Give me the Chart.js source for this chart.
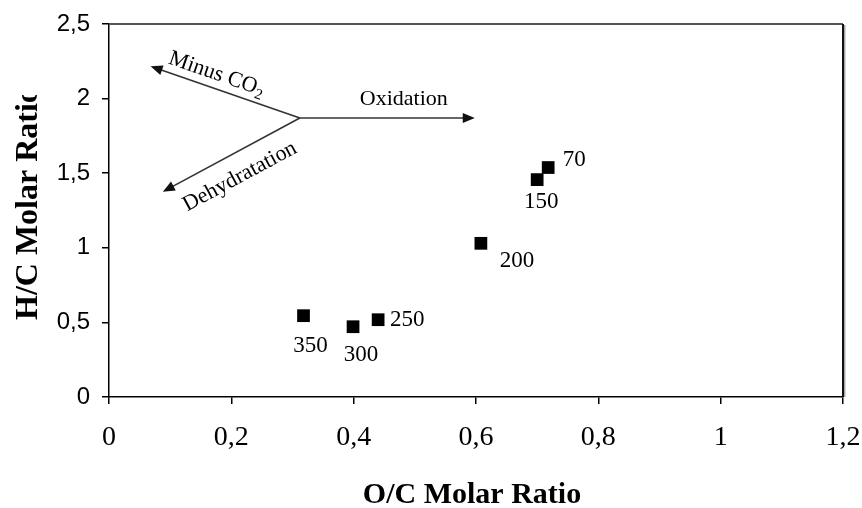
<!DOCTYPE html>
<html>
<head>
<meta charset="utf-8">
<script src="https://cdn.jsdelivr.net/npm/chart.js@4/dist/chart.umd.min.js"></script>
<style>
  html, body { margin: 0; padding: 0; background: #fff; }
  #wrap { width: 862px; height: 508px; }
</style>
</head>
<body>
<div id="wrap"><canvas id="vkChart"></canvas></div>
<script>
// pyrolysis temperature of each sample, with its O/C and H/C ratio
const temps = ["70", "150", "200", "250", "300", "350"];
const ocRatio = [0.718, 0.700, 0.608, 0.440, 0.399, 0.318];
const hcRatio = [1.538, 1.457, 1.030, 0.518, 0.471, 0.545];

const xTicks = [0, 0.2, 0.4, 0.6, 0.8, 1, 1.2];
const yTicks = [0, 0.5, 1, 1.5, 2, 2.5];

// van Krevelen reaction arrows (data units)
const arrowOrigin = [0.312, 1.87];
const arrowTips = [[0.068, 2.217], [0.088, 1.376], [0.598, 1.87]];
const arrowNames = ["Minus CO", "Dehydratation", "Oxidation"];
const arrowTextAt = [[0.176, 2.164], [0.214, 1.477], [0.482, 1.995]];

const serif = "'Liberation Serif', 'Times New Roman', serif";
const sans = "'Liberation Sans', Arial, sans-serif";
const comma = (v) => String(v).replace(".", ",");

// where each temperature label sits relative to its marker (px)
const labelOffsets = [[26, -8], [4, 22], [36, 18], [29, 0], [8, 28], [7, 30]];

const decor = {
    id: "decor",
    beforeDraw(chart) {
        const ctx = chart.ctx;
        ctx.save();
        ctx.fillStyle = "#fff";
        ctx.fillRect(0, 0, chart.width, chart.height);
        ctx.restore();
    },
    afterDatasetsDraw(chart) {
        const { ctx, chartArea: a, scales } = chart;
        const px = (p) => [scales.x.getPixelForValue(p[0]), scales.y.getPixelForValue(p[1])];
        ctx.save();

        // top + right frame
        ctx.strokeStyle = "#555";
        ctx.lineWidth = 2;
        ctx.beginPath();
        ctx.moveTo(a.left, a.top);
        ctx.lineTo(a.right, a.top);
        ctx.stroke();
        ctx.strokeStyle = "#aaa";
        ctx.beginPath();
        ctx.moveTo(a.right + 1.5, a.top + 1);
        ctx.lineTo(a.right + 1.5, a.bottom);
        ctx.stroke();
        ctx.strokeStyle = "#111";
        ctx.beginPath();
        ctx.moveTo(a.right, a.top);
        ctx.lineTo(a.right, a.bottom);
        ctx.stroke();

        // arrows
        const [ox, oy] = px(arrowOrigin);
        ctx.strokeStyle = "#333";
        ctx.fillStyle = "#111";
        ctx.lineWidth = 1.6;
        arrowTips.forEach((tip) => {
            const [tx, ty] = px(tip);
            const ang = Math.atan2(ty - oy, tx - ox);
            ctx.beginPath();
            ctx.moveTo(ox, oy);
            ctx.lineTo(tx - 6 * Math.cos(ang), ty - 6 * Math.sin(ang));
            ctx.stroke();
            ctx.beginPath();
            ctx.moveTo(tx, ty);
            ctx.lineTo(tx - 12 * Math.cos(ang) + 5 * Math.sin(ang), ty - 12 * Math.sin(ang) - 5 * Math.cos(ang));
            ctx.lineTo(tx - 12 * Math.cos(ang) - 5 * Math.sin(ang), ty - 12 * Math.sin(ang) + 5 * Math.cos(ang));
            ctx.closePath();
            ctx.fill();
        });

        // arrow captions
        ctx.fillStyle = "#000";
        ctx.textBaseline = "middle";
        arrowNames.forEach((name, i) => {
            const [cx, cy] = px(arrowTextAt[i]);
            const [tx, ty] = px(arrowTips[i]);
            let ang = Math.atan2(oy - ty, ox - tx);
            if (i === 2) ang = 0;
            ctx.save();
            ctx.translate(cx, cy);
            ctx.rotate(ang);
            ctx.font = `22px ${serif}`;
            if (i === 0) {
                const w = ctx.measureText(name).width;
                ctx.font = `15px ${serif}`;
                const w2 = ctx.measureText("2").width;
                ctx.font = `22px ${serif}`;
                ctx.textAlign = "left";
                ctx.fillText(name, -(w + w2) / 2, 0);
                ctx.font = `15px ${serif}`;
                ctx.fillText("2", -(w + w2) / 2 + w, 6);
            } else {
                ctx.textAlign = "center";
                ctx.fillText(name, 0, 0);
            }
            ctx.restore();
        });

        // temperature labels
        const meta = chart.getDatasetMeta(0);
        ctx.font = `23px ${serif}`;
        ctx.textAlign = "center";
        ctx.textBaseline = "middle";
        meta.data.forEach((pt, i) => {
            const off = labelOffsets[i];
            ctx.fillText(temps[i], pt.x + off[0], pt.y + off[1]);
        });
        ctx.restore();
    },
    afterDraw(chart) {
        const { ctx } = chart;
        ctx.save();
        ctx.fillStyle = "#000";
        ctx.font = `bold 30px ${serif}`;
        ctx.textAlign = "center";
        ctx.textBaseline = "alphabetic";
        ctx.fillText("O/C Molar Ratio", 472, 503);

        // y title, clipped at the top like the source
        ctx.beginPath();
        ctx.rect(0, 95, 70, 400);
        ctx.clip();
        ctx.translate(37, 320);
        ctx.rotate(-Math.PI / 2);
        ctx.font = `bold 32px ${serif}`;
        ctx.textAlign = "left";
        ctx.fillText("H/C Molar Ratio", 0, 0);
        ctx.restore();
    }
};

new Chart(document.getElementById("vkChart"), {
    type: "scatter",
    data: {
        datasets: [{
            label: "samples",
            data: ocRatio.map((x, i) => ({ x, y: hcRatio[i] })),
            pointStyle: "rect",
            pointRadius: 9,
            pointHoverRadius: 9,
            backgroundColor: "#000",
            borderColor: "#000",
            borderWidth: 0
        }]
    },
    options: {
        responsive: true,
        maintainAspectRatio: false,
        animation: false,
        layout: { padding: { top: 24, right: 19, left: 0, bottom: 0 } },
        plugins: {
            legend: { display: false },
            tooltip: { enabled: false }
        },
        scales: {
            x: {
                type: "linear",
                min: 0,
                max: 1.2,
                afterBuildTicks: (s) => { s.ticks = xTicks.map((v) => ({ value: v })); },
                afterFit: (s) => { s.height = 111; s.paddingLeft = 0; s.paddingRight = 0; },
                grid: { drawOnChartArea: false, drawTicks: true, tickLength: 7, color: "#000", lineWidth: 1.5 },
                border: { color: "#000", width: 1.5 },
                ticks: {
                    font: { family: serif, size: 28 },
                    color: "#000",
                    padding: 17,
                    maxRotation: 0,
                    autoSkip: false,
                    callback: (v) => comma(v)
                }
            },
            y: {
                type: "linear",
                min: 0,
                max: 2.5,
                afterBuildTicks: (s) => { s.ticks = yTicks.map((v) => ({ value: v })); },
                afterFit: (s) => { s.width = 109; s.paddingTop = 0; s.paddingBottom = 0; },
                grid: { drawOnChartArea: false, drawTicks: true, tickLength: 7, color: "#000", lineWidth: 1.5 },
                border: { color: "#000", width: 1.5 },
                ticks: {
                    font: { family: sans, size: 24 },
                    color: "#000",
                    padding: 12,
                    autoSkip: false,
                    callback: (v) => comma(v)
                }
            }
        }
    },
    plugins: [decor]
});
</script>
</body>
</html>
